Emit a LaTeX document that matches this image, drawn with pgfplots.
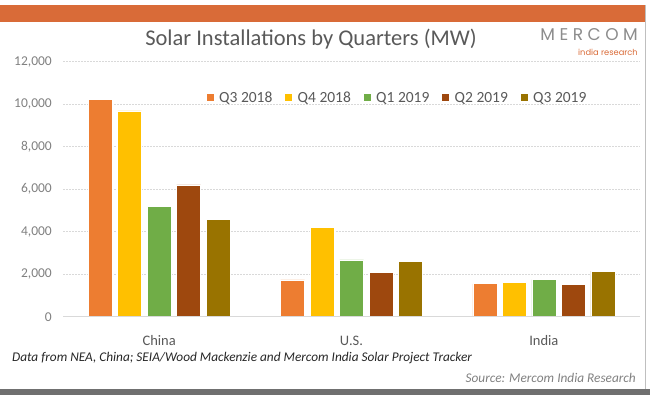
\documentclass[border=0pt]{standalone}
\usepackage{pgfplots}
\pgfplotsset{compat=1.18}
\usepackage{fontspec}
\setmainfont{Carlito}
\newfontfamily\logofont{Poppins}
\definecolor{cQa}{HTML}{ED7D31}
\definecolor{cQb}{HTML}{FFC000}
\definecolor{cQc}{HTML}{70AD47}
\definecolor{cQd}{HTML}{9E480E}
\definecolor{cQe}{HTML}{997300}
\definecolor{band}{HTML}{D96B38}
\definecolor{txt}{HTML}{595959}
\definecolor{tickc}{HTML}{808080}
\definecolor{gridc}{HTML}{D9D9D9}
\begin{document}
\begin{tikzpicture}[x=1bp,y=1bp]
\useasboundingbox (0,0) rectangle (650,395);
\fill[band] (0,373) rectangle (645,390);
\draw[gray!50,line width=0.8bp] (645,6) -- (645,390);
\fill[gray!60!black!80] (0,0) rectangle (650,6);
\node[anchor=base,text=txt,font=\fontsize{22.5bp}{26bp}\selectfont,inner sep=0pt] at (311,349.3) {Solar Installations by Quarters (MW)};
\node[anchor=base east,text=gray!90,font=\logofont\fontsize{17bp}{19bp}\selectfont,inner sep=0pt] at (638,355) {M\kern4.5bp E\kern4.5bp R\kern4.5bp C\kern4.5bp O\kern4.5bp M};
\node[anchor=base east,text=band,font=\logofont\fontsize{8.3bp}{10bp}\selectfont,inner sep=0pt] at (638,340) {india research};
\node[anchor=west,text=black!85,font=\itshape\fontsize{13.3bp}{15bp}\selectfont,inner sep=0pt] at (12,37) {Data from NEA, China; SEIA/Wood Mackenzie and Mercom India Solar Project Tracker};
\node[anchor=east,text=tickc,font=\itshape\fontsize{13.3bp}{15bp}\selectfont,inner sep=0pt] at (636,17) {Source: Mercom India Research};
\begin{axis}[
  at={(63bp,78.3bp)}, anchor=south west,
  scale only axis, width=577bp, height=255bp,
  xmin=-0.5, xmax=2.5, ymin=0, ymax=12000,
  ybar=5.5bp, bar width=24bp,
  axis line style={draw=none},
  xtick={0,1,2}, xticklabels={China,U.S.,India},
  ytick={0,2000,...,12000},
  scaled y ticks=false,
  major tick length=0pt,
  tick style={draw=none},
  xmajorgrids=false,
  ymajorgrids, grid style={gridc, dash pattern=on 2bp off 1bp, line width=0.6bp},
  /pgf/number format/.cd, 1000 sep={,}, assume math mode=true, /pgfplots/.cd,
  yticklabel style={inner sep=0pt, anchor=east, xshift=-11bp, text=tickc, font=\fontsize{13.5bp}{15bp}\selectfont},
  xticklabel style={inner sep=0pt, anchor=base, yshift=-29bp, text=txt, font=\fontsize{14.5bp}{16bp}\selectfont},
  legend columns=5,
  legend style={draw=none, fill=none, at={(0.58,0.858)}, anchor=center, font=\fontsize{15.5bp}{17bp}\selectfont, text=txt, /tikz/every even column/.append style={column sep=11bp}},
  legend image code/.code={\fill[#1,draw=none] (0bp,-3.5bp) rectangle (7bp,3.5bp); \path (10bp,0bp);},
  every axis plot/.append style={draw=white, line width=0.6bp},
]
\addplot[fill=cQa] coordinates {(0,10230) (1,1730) (2,1550)};
\addplot[fill=cQb] coordinates {(0,9680) (1,4190) (2,1600)};
\addplot[fill=cQc] coordinates {(0,5180) (1,2670) (2,1740)};
\addplot[fill=cQd] coordinates {(0,6200) (1,2090) (2,1520)};
\addplot[fill=cQe] coordinates {(0,4580) (1,2590) (2,2140)};
\legend{Q3 2018,Q4 2018,Q1 2019,Q2 2019,Q3 2019}
\draw[gridc, line width=0.8bp] (rel axis cs:0,0) -- (rel axis cs:1,0);
\end{axis}
\end{tikzpicture}
\end{document}
